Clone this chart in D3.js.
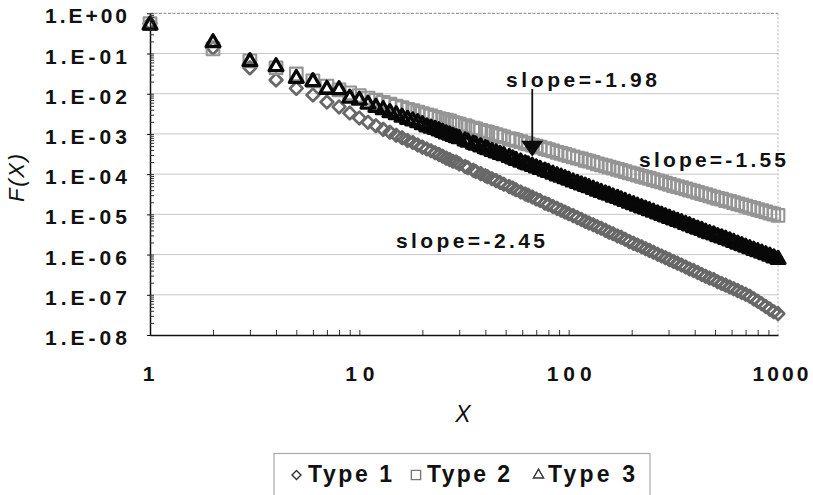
<!DOCTYPE html>
<html>
<head>
<meta charset="utf-8">
<script src="https://cdn.jsdelivr.net/npm/d3@7"></script>
<style>
  html, body { margin: 0; padding: 0; background: #fff; }
  svg { display: block; }
  text { font-family: "Liberation Sans", Arial, sans-serif; fill: #111; }
</style>
</head>
<body>
<svg id="chart" width="813" height="495"></svg>
<script>
// ---- data -------------------------------------------------------------
const xValues = [
  1, 2, 3, 4, 5, 6, 7, 8, 9, 10,
  11, 12, 13, 14, 15, 16, 17, 18, 19, 20,
  21, 22, 23, 24, 25, 26, 27, 28, 29, 30,
  32, 33, 35, 36, 38, 40, 41, 43, 45, 47,
  49, 52, 54, 56, 59, 62, 64, 67, 70, 73,
  77, 80, 84, 88, 92, 96, 100, 105, 110, 115,
  120, 125, 131, 137, 143, 150, 156, 163, 171, 178,
  186, 195, 204, 213, 223, 233, 243, 254, 266, 278,
  290, 303, 317, 331, 346, 362, 378, 395, 413, 432,
  451, 471, 493, 515, 538, 562, 588, 614, 642, 671,
  701, 733, 766, 800, 836, 874, 914, 955, 1000
];

const type1 = [
  0.56, 0.137, 0.044, 0.022, 0.0136, 0.0093, 0.0062, 0.0047, 0.0033, 0.0025,
  1.95e-3, 1.6e-3, 1.3e-3, 1.1e-3, 9.3e-4, 8.0e-4, 6.9e-4, 6.1e-4, 5.3e-4, 4.7e-4,
  4.2e-4, 3.8e-4, 3.4e-4, 3.1e-4, 2.8e-4, 2.5e-4, 2.3e-4, 2.1e-4, 2.0e-4, 1.8e-4,
  1.55e-4, 1.44e-4, 1.25e-4, 1.17e-4, 1.03e-4, 9.1e-5, 8.6e-5, 7.7e-5, 6.9e-5, 6.2e-5,
  5.6e-5, 4.9e-5, 4.5e-5, 4.1e-5, 3.6e-5, 3.2e-5, 3.0e-5, 2.7e-5, 2.4e-5, 2.2e-5,
  1.9e-5, 1.77e-5, 1.57e-5, 1.41e-5, 1.27e-5, 1.15e-5, 1.04e-5, 9.3e-6, 8.3e-6, 7.5e-6,
  6.7e-6, 6.1e-6, 5.5e-6, 4.9e-6, 4.5e-6, 4.0e-6, 3.6e-6, 3.3e-6, 2.9e-6, 2.7e-6,
  2.4e-6, 2.1e-6, 1.9e-6, 1.73e-6, 1.56e-6, 1.40e-6, 1.27e-6, 1.14e-6, 1.02e-6, 9.2e-7,
  8.3e-7, 7.5e-7, 6.7e-7, 6.1e-7, 5.5e-7, 4.9e-7, 4.4e-7, 4.0e-7, 3.6e-7, 3.2e-7,
  2.9e-7, 2.6e-7, 2.4e-7, 2.1e-7, 1.9e-7, 1.74e-7, 1.56e-7, 1.41e-7, 1.27e-7, 1.14e-7,
  1.03e-7, 9.2e-8, 7.9e-8, 6.9e-8, 6.0e-8, 5.1e-8, 4.4e-8, 3.8e-8, 3.4e-8
];

const type2 = [
  0.55, 0.13, 0.066, 0.044, 0.031, 0.021, 0.0155, 0.0125, 0.0105, 0.0090,
  7.8e-3, 6.9e-3, 6.1e-3, 5.5e-3, 4.9e-3, 4.5e-3, 4.1e-3, 3.8e-3, 3.5e-3, 3.2e-3,
  3.0e-3, 2.8e-3, 2.6e-3, 2.4e-3, 2.3e-3, 2.2e-3, 2.1e-3, 1.9e-3, 1.8e-3, 1.75e-3,
  1.6e-3, 1.5e-3, 1.4e-3, 1.34e-3, 1.23e-3, 1.14e-3, 1.10e-3, 1.03e-3, 9.6e-4, 9.0e-4,
  8.5e-4, 7.7e-4, 7.3e-4, 6.9e-4, 6.4e-4, 5.9e-4, 5.7e-4, 5.3e-4, 5.0e-4, 4.7e-4,
  4.3e-4, 4.1e-4, 3.8e-4, 3.5e-4, 3.3e-4, 3.1e-4, 2.9e-4, 2.7e-4, 2.5e-4, 2.4e-4,
  2.2e-4, 2.1e-4, 1.95e-4, 1.8e-4, 1.7e-4, 1.6e-4, 1.5e-4, 1.41e-4, 1.31e-4, 1.24e-4,
  1.16e-4, 1.08e-4, 1.01e-4, 9.5e-5, 8.8e-5, 8.3e-5, 7.8e-5, 7.3e-5, 6.8e-5, 6.4e-5,
  6.0e-5, 5.6e-5, 5.2e-5, 4.9e-5, 4.6e-5, 4.3e-5, 4.0e-5, 3.8e-5, 3.5e-5, 3.3e-5,
  3.1e-5, 2.9e-5, 2.7e-5, 2.5e-5, 2.4e-5, 2.2e-5, 2.1e-5, 1.95e-5, 1.83e-5, 1.71e-5,
  1.60e-5, 1.50e-5, 1.41e-5, 1.31e-5, 1.23e-5, 1.15e-5, 1.08e-5, 1.01e-5, 9.4e-6
];

const type3 = [
  0.51, 0.186, 0.063, 0.047, 0.024, 0.020, 0.0129, 0.0126, 0.0078, 0.0069,
  5.5e-3, 4.6e-3, 4.0e-3, 3.4e-3, 3.0e-3, 2.6e-3, 2.3e-3, 2.1e-3, 1.9e-3, 1.7e-3,
  1.5e-3, 1.4e-3, 1.3e-3, 1.2e-3, 1.1e-3, 1.0e-3, 9.4e-4, 8.7e-4, 8.1e-4, 7.6e-4,
  6.7e-4, 6.3e-4, 5.6e-4, 5.3e-4, 4.8e-4, 4.3e-4, 4.1e-4, 3.7e-4, 3.4e-4, 3.1e-4,
  2.9e-4, 2.6e-4, 2.4e-4, 2.2e-4, 2.0e-4, 1.8e-4, 1.7e-4, 1.56e-4, 1.43e-4, 1.32e-4,
  1.19e-4, 1.10e-4, 1.0e-4, 9.1e-5, 8.4e-5, 7.7e-5, 7.1e-5, 6.4e-5, 5.9e-5, 5.4e-5,
  5.0e-5, 4.6e-5, 4.2e-5, 3.8e-5, 3.5e-5, 3.2e-5, 3.0e-5, 2.7e-5, 2.5e-5, 2.3e-5,
  2.1e-5, 1.9e-5, 1.74e-5, 1.6e-5, 1.46e-5, 1.34e-5, 1.23e-5, 1.13e-5, 1.03e-5, 9.5e-6,
  8.7e-6, 8.0e-6, 7.3e-6, 6.7e-6, 6.2e-6, 5.6e-6, 5.2e-6, 4.7e-6, 4.3e-6, 4.0e-6,
  3.6e-6, 3.3e-6, 3.1e-6, 2.8e-6, 2.6e-6, 2.4e-6, 2.2e-6, 2.0e-6, 1.82e-6, 1.67e-6,
  1.53e-6, 1.40e-6, 1.28e-6, 1.18e-6, 1.08e-6, 9.9e-7, 9.1e-7, 8.3e-7, 7.6e-7
];

const seriesNames = ["Type 1", "Type 2", "Type 3"];
const yTickLabels = ["1.E+00", "1.E-01", "1.E-02", "1.E-03", "1.E-04",
                     "1.E-05", "1.E-06", "1.E-07", "1.E-08"];
const xTickLabels = ["1", "10", "100", "1000"];
const slopeLabels = ["slope=-1.98", "slope=-1.55", "slope=-2.45"];

// ---- layout -----------------------------------------------------------
const svg = d3.select("#chart");
const plot = { left: 150, right: 778, top: 13.3, bottom: 335 };

const x = d3.scaleLog().domain([1, 1000]).range([plot.left, plot.right]);
const y = d3.scaleLog().domain([1e-8, 1]).range([plot.bottom, plot.top]);

const yMajor = yTickLabels.map(s => Number(s.replace("E", "e")));
const xMajor = xTickLabels.map(Number);

// horizontal gridlines at each decade
svg.append("g")
  .selectAll("line")
  .data(yMajor.filter(v => v > 1e-8 && v < 1))
  .join("line")
  .attr("x1", plot.left).attr("x2", plot.right)
  .attr("y1", d => y(d)).attr("y2", d => y(d))
  .attr("stroke", "#c6c6c6").attr("stroke-width", 1);

// plot-area frame: top and right edges
svg.append("line")
  .attr("x1", plot.left).attr("x2", plot.right)
  .attr("y1", y(1)).attr("y2", y(1))
  .attr("stroke", "#9c9c9c").attr("stroke-width", 1.3)
  .attr("stroke-dasharray", "3,1.5");
svg.append("line")
  .attr("x1", plot.right).attr("x2", plot.right)
  .attr("y1", plot.top).attr("y2", plot.bottom)
  .attr("stroke", "#b4b4b4").attr("stroke-width", 1)
  .attr("stroke-dasharray", "2,2");

// ---- markers ----------------------------------------------------------
const diamondShape = {
  draw(ctx, size) {
    const r = Math.sqrt(size / 2);
    ctx.moveTo(0, -r); ctx.lineTo(r, 0); ctx.lineTo(0, r); ctx.lineTo(-r, 0); ctx.closePath();
  }
};

const series = [
  { name: seriesNames[0], values: type1, type: diamondShape, size: 80, stroke: "#686868", width: 2.7 },
  { name: seriesNames[1], values: type2, type: d3.symbolSquare, size: 160, stroke: "#959595", width: 2.1 },
  { name: seriesNames[2], values: type3, type: d3.symbolTriangle, size: 82, stroke: "#080808", width: 3.3 }
];

series.forEach(s => {
  const sym = d3.symbol().type(s.type).size(s.size);
  svg.append("g")
    .selectAll("path")
    .data(xValues.map((xv, i) => [xv, s.values[i]]))
    .join("path")
    .attr("transform", d => `translate(${x(d[0])},${y(d[1])})`)
    .attr("d", sym)
    .attr("fill", "none")
    .attr("stroke", s.stroke)
    .attr("stroke-width", s.width)
    .attr("stroke-linejoin", "round");
});

// ---- axes -------------------------------------------------------------
const yAxis = svg.append("g")
  .attr("transform", `translate(${plot.left},0)`)
  .call(d3.axisLeft(y).tickValues(yMajor)
    .tickFormat((d, i) => yTickLabels[i]).tickSize(3).tickSizeOuter(0).tickPadding(20));
yAxis.select(".domain").attr("stroke", "#111").attr("stroke-width", 1.5);
yAxis.selectAll(".tick line").attr("stroke", "#111");
yAxis.selectAll("text")
  .attr("font-size", 21).attr("font-weight", "bold").attr("dy", 9.5)
  .attr("textLength", 82).attr("lengthAdjust", "spacing")
  .attr("fill", "#111");

// minor ticks on the value axis, pointing into the plot
svg.append("g")
  .attr("transform", `translate(${plot.left},0)`)
  .call(d3.axisLeft(y).tickValues(y.ticks()).tickSize(-4).tickSizeOuter(0).tickFormat(""))
  .call(g => g.select(".domain").remove())
  .selectAll("line").attr("stroke", "#333");

const xAxis = svg.append("g")
  .attr("transform", `translate(0,${plot.bottom})`)
  .call(d3.axisBottom(x).tickValues(xMajor)
    .tickFormat((d, i) => xTickLabels[i]).tickSize(0).tickSizeOuter(0));
xAxis.select(".domain").attr("stroke", "#111").attr("stroke-width", 1.5);
const xLabelWidths = [0, 29, 45, 56];
const xLabelShift = [-2, 0, 0, 2];
xAxis.selectAll("text")
  .attr("font-size", 21).attr("font-weight", "bold")
  .attr("y", 46).attr("dy", 0).attr("fill", "#111")
  .attr("dx", (d, i) => xLabelShift[i])
  .each(function (d, i) {
    if (xLabelWidths[i]) d3.select(this).attr("textLength", xLabelWidths[i]).attr("lengthAdjust", "spacing");
  });

// minor ticks on the category axis, pointing up into the plot
svg.append("g")
  .attr("transform", `translate(0,${plot.bottom})`)
  .call(d3.axisBottom(x).tickValues(x.ticks().filter(v => v > 1 && v < 1000))
    .tickSize(-5).tickSizeOuter(0).tickFormat(""))
  .call(g => g.select(".domain").remove())
  .selectAll("line").attr("stroke", "#333");

// axis titles
svg.append("text")
  .attr("x", 463).attr("y", 422)
  .attr("text-anchor", "middle")
  .attr("font-size", 23).attr("font-style", "italic")
  .text("X");

svg.append("text")
  .attr("transform", "translate(24,178) rotate(-90)")
  .attr("text-anchor", "middle")
  .attr("font-size", 22).attr("font-style", "italic")
  .attr("textLength", 48).attr("lengthAdjust", "spacing")
  .text("F(X)");

// ---- slope annotations ------------------------------------------------
const noteFont = 21;
const notes = svg.append("g").attr("font-size", noteFont).attr("font-weight", "bold");
notes.append("text").attr("x", 506).attr("y", 86.5)
  .attr("textLength", 151).attr("lengthAdjust", "spacing")
  .text(slopeLabels[0]);
notes.append("text").attr("x", 639).attr("y", 166.5)
  .attr("textLength", 147).attr("lengthAdjust", "spacing")
  .text(slopeLabels[1]);
notes.append("text").attr("x", 396).attr("y", 248)
  .attr("textLength", 149).attr("lengthAdjust", "spacing")
  .text(slopeLabels[2]);

// arrow pointing at the Type 3 band
const arrowX = x(67);
const arrowTip = y(2.7e-4);
svg.append("line")
  .attr("x1", arrowX).attr("x2", arrowX)
  .attr("y1", 89).attr("y2", arrowTip - 14)
  .attr("stroke", "#111").attr("stroke-width", 1.8);
svg.append("path")
  .attr("d", `M${arrowX - 11},${arrowTip - 16}L${arrowX + 11},${arrowTip - 16}L${arrowX},${arrowTip}Z`)
  .attr("fill", "#0c0c0c");

// ---- legend -----------------------------------------------------------
const legend = svg.append("g");
legend.append("rect")
  .attr("x", 274).attr("y", 453.5).attr("width", 376).attr("height", 60)
  .attr("fill", "#fff").attr("stroke", "#a8a8a8").attr("stroke-width", 1.2);

const legendItems = [
  { sym: diamondShape, size: 40, stroke: "#333", sx: 296.5, tx: 308, tl: 84 },
  { sym: d3.symbolSquare, size: 85, stroke: "#777", sx: 416, tx: 427, tl: 83 },
  { sym: d3.symbolTriangle, size: 45, stroke: "#333", sx: 538.5, tx: 548, tl: 87 }
];
legendItems.forEach((it, i) => {
  legend.append("path")
    .attr("transform", `translate(${it.sx},${475})`)
    .attr("d", d3.symbol().type(it.sym).size(it.size))
    .attr("fill", "none").attr("stroke", it.stroke).attr("stroke-width", 1.4);
  legend.append("text")
    .attr("x", it.tx).attr("y", 482)
    .attr("font-size", 23).attr("font-weight", "bold")
    .attr("textLength", it.tl).attr("lengthAdjust", "spacing")
    .text(seriesNames[i]);
});
</script>
</body>
</html>
